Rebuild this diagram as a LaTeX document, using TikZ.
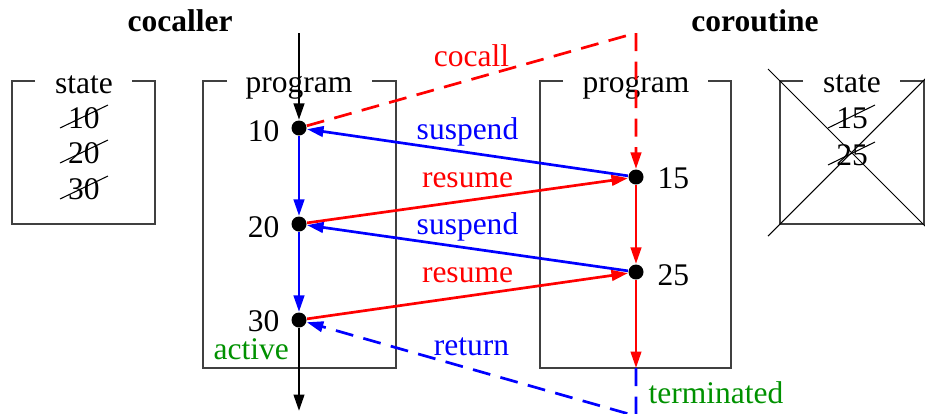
\documentclass[tikz,border=0pt]{standalone}
\usepackage{fontspec}
\setmainfont{Liberation Serif}
\usetikzlibrary{arrows.meta}
\definecolor{stategreen}{rgb}{0,0.57,0}

\begin{document}
\begin{tikzpicture}[x=0.3333pt,y=-0.3333pt,font=\fontsize{10.5}{12.6}\selectfont,
  dot/.style={circle,fill,inner sep=0pt,minimum size=5pt},
  boxline/.style={draw=black!75,line width=0.5pt},
  flow/.style={line width=0.9pt,-{Triangle[length=5.5pt,width=3.5pt]}},
  jump/.style={flow,dash pattern=on 6pt off 3.5pt},
  tag/.style={midway,above,inner sep=4pt,text depth=0pt},
  numlabel/.style={inner sep=0pt},
  strike/.style={line width=0.35pt},
  heading/.style={font=\fontsize{10.5}{12.6}\selectfont\bfseries,anchor=base}]
  \useasboundingbox (0,0) rectangle (925,413);
  % headings
  \node[heading] (hcaller) at (180,31) {cocaller};
  \node[heading] (hroutine) at (755,31) {coroutine};
  % state of the cocaller
  \draw[boxline] (35,81) -| (12,224) -| (155,81) -- (132,81);
  \node[anchor=base] (lstate) at (84,93) {state};
  \foreach \n/\y in {10/128,20/163,30/199}{
    \node[anchor=base] (ls\n) at (84,\y) {\n};
    \draw[strike] (60,\y) -- (108,\y-23);
  }
  % programs
  \draw[boxline] (227,81) -| (203,368) -| (396,81) -- (372,81);
  \node[anchor=base] (lprog) at (299,92) {program};
  \draw[boxline] (563,81) -| (540,368) -| (731,81) -- (708,81);
  \node[anchor=base] (rprog) at (636,92) {program};
  % state of the coroutine, thrown away
  \draw[boxline] (803,81) -| (780,224) -| (924,81) -- (900,81);
  \node[anchor=base] (rstate) at (852,92) {state};
  \node[anchor=base] (rs15) at (852,128) {15};
  \node[anchor=base] (rs25) at (852,165) {25};
  \draw[strike] (828,128) -- (875,105);
  \draw[strike] (828,165) -- (875,142);
  \draw[strike] (768,69) -- (937,238);
  \draw[strike] (768,236) -- (937,67);
  % points of control
  \node[dot] (c10) at (299,128) {};
  \node[dot] (c20) at (299,224) {};
  \node[dot] (c30) at (299,320) {};
  \node[dot] (r15) at (636,177) {};
  \node[dot] (r25) at (636,272) {};
  \node[numlabel,anchor=base east] (n10) at (280,141) {10};
  \node[numlabel,anchor=base east] (n20) at (280,237) {20};
  \node[numlabel,anchor=base east] (n30) at (280,331) {30};
  \node[numlabel,anchor=base west,stategreen] (active) at (213,359) {active};
  \node[numlabel,anchor=base west] (n15) at (657,188) {15};
  \node[numlabel,anchor=base west] (n25) at (657,285) {25};
  \node[numlabel,anchor=base west,stategreen] (terminated) at (648,403) {terminated};
  \coordinate (ctop) at (299,33);
  \coordinate (cend) at (299,411);
  \coordinate (rtop) at (636,33);
  \coordinate (rend) at (636,368);
  \coordinate (rcorner) at (636,416);
  % control flow
  \draw[flow] (ctop) -- (c10);
  \draw[flow,blue] (c10) -- (c20);
  \draw[flow,blue] (c20) -- (c30);
  \draw[flow] (c30) -- (cend);
  \draw[jump,red] (c10) -- node[tag] (tcocall) {cocall} (rtop) -- (r15);
  \draw[flow,blue] (r15) -- node[tag] (tsusp1) {suspend} (c10);
  \draw[flow,red] (c20) -- node[tag] (tres1) {resume} (r15);
  \draw[flow,blue] (r25) -- node[tag] (tsusp2) {suspend} (c20);
  \draw[flow,red] (c30) -- node[tag] (tres2) {resume} (r25);
  \draw[flow,red] (r15) -- (r25);
  \draw[flow,red] (r25) -- (rend);
  \draw[jump,blue] (rend) -- (rcorner) -- node[tag] (treturn) {return} (c30);
\end{tikzpicture}
\end{document}
